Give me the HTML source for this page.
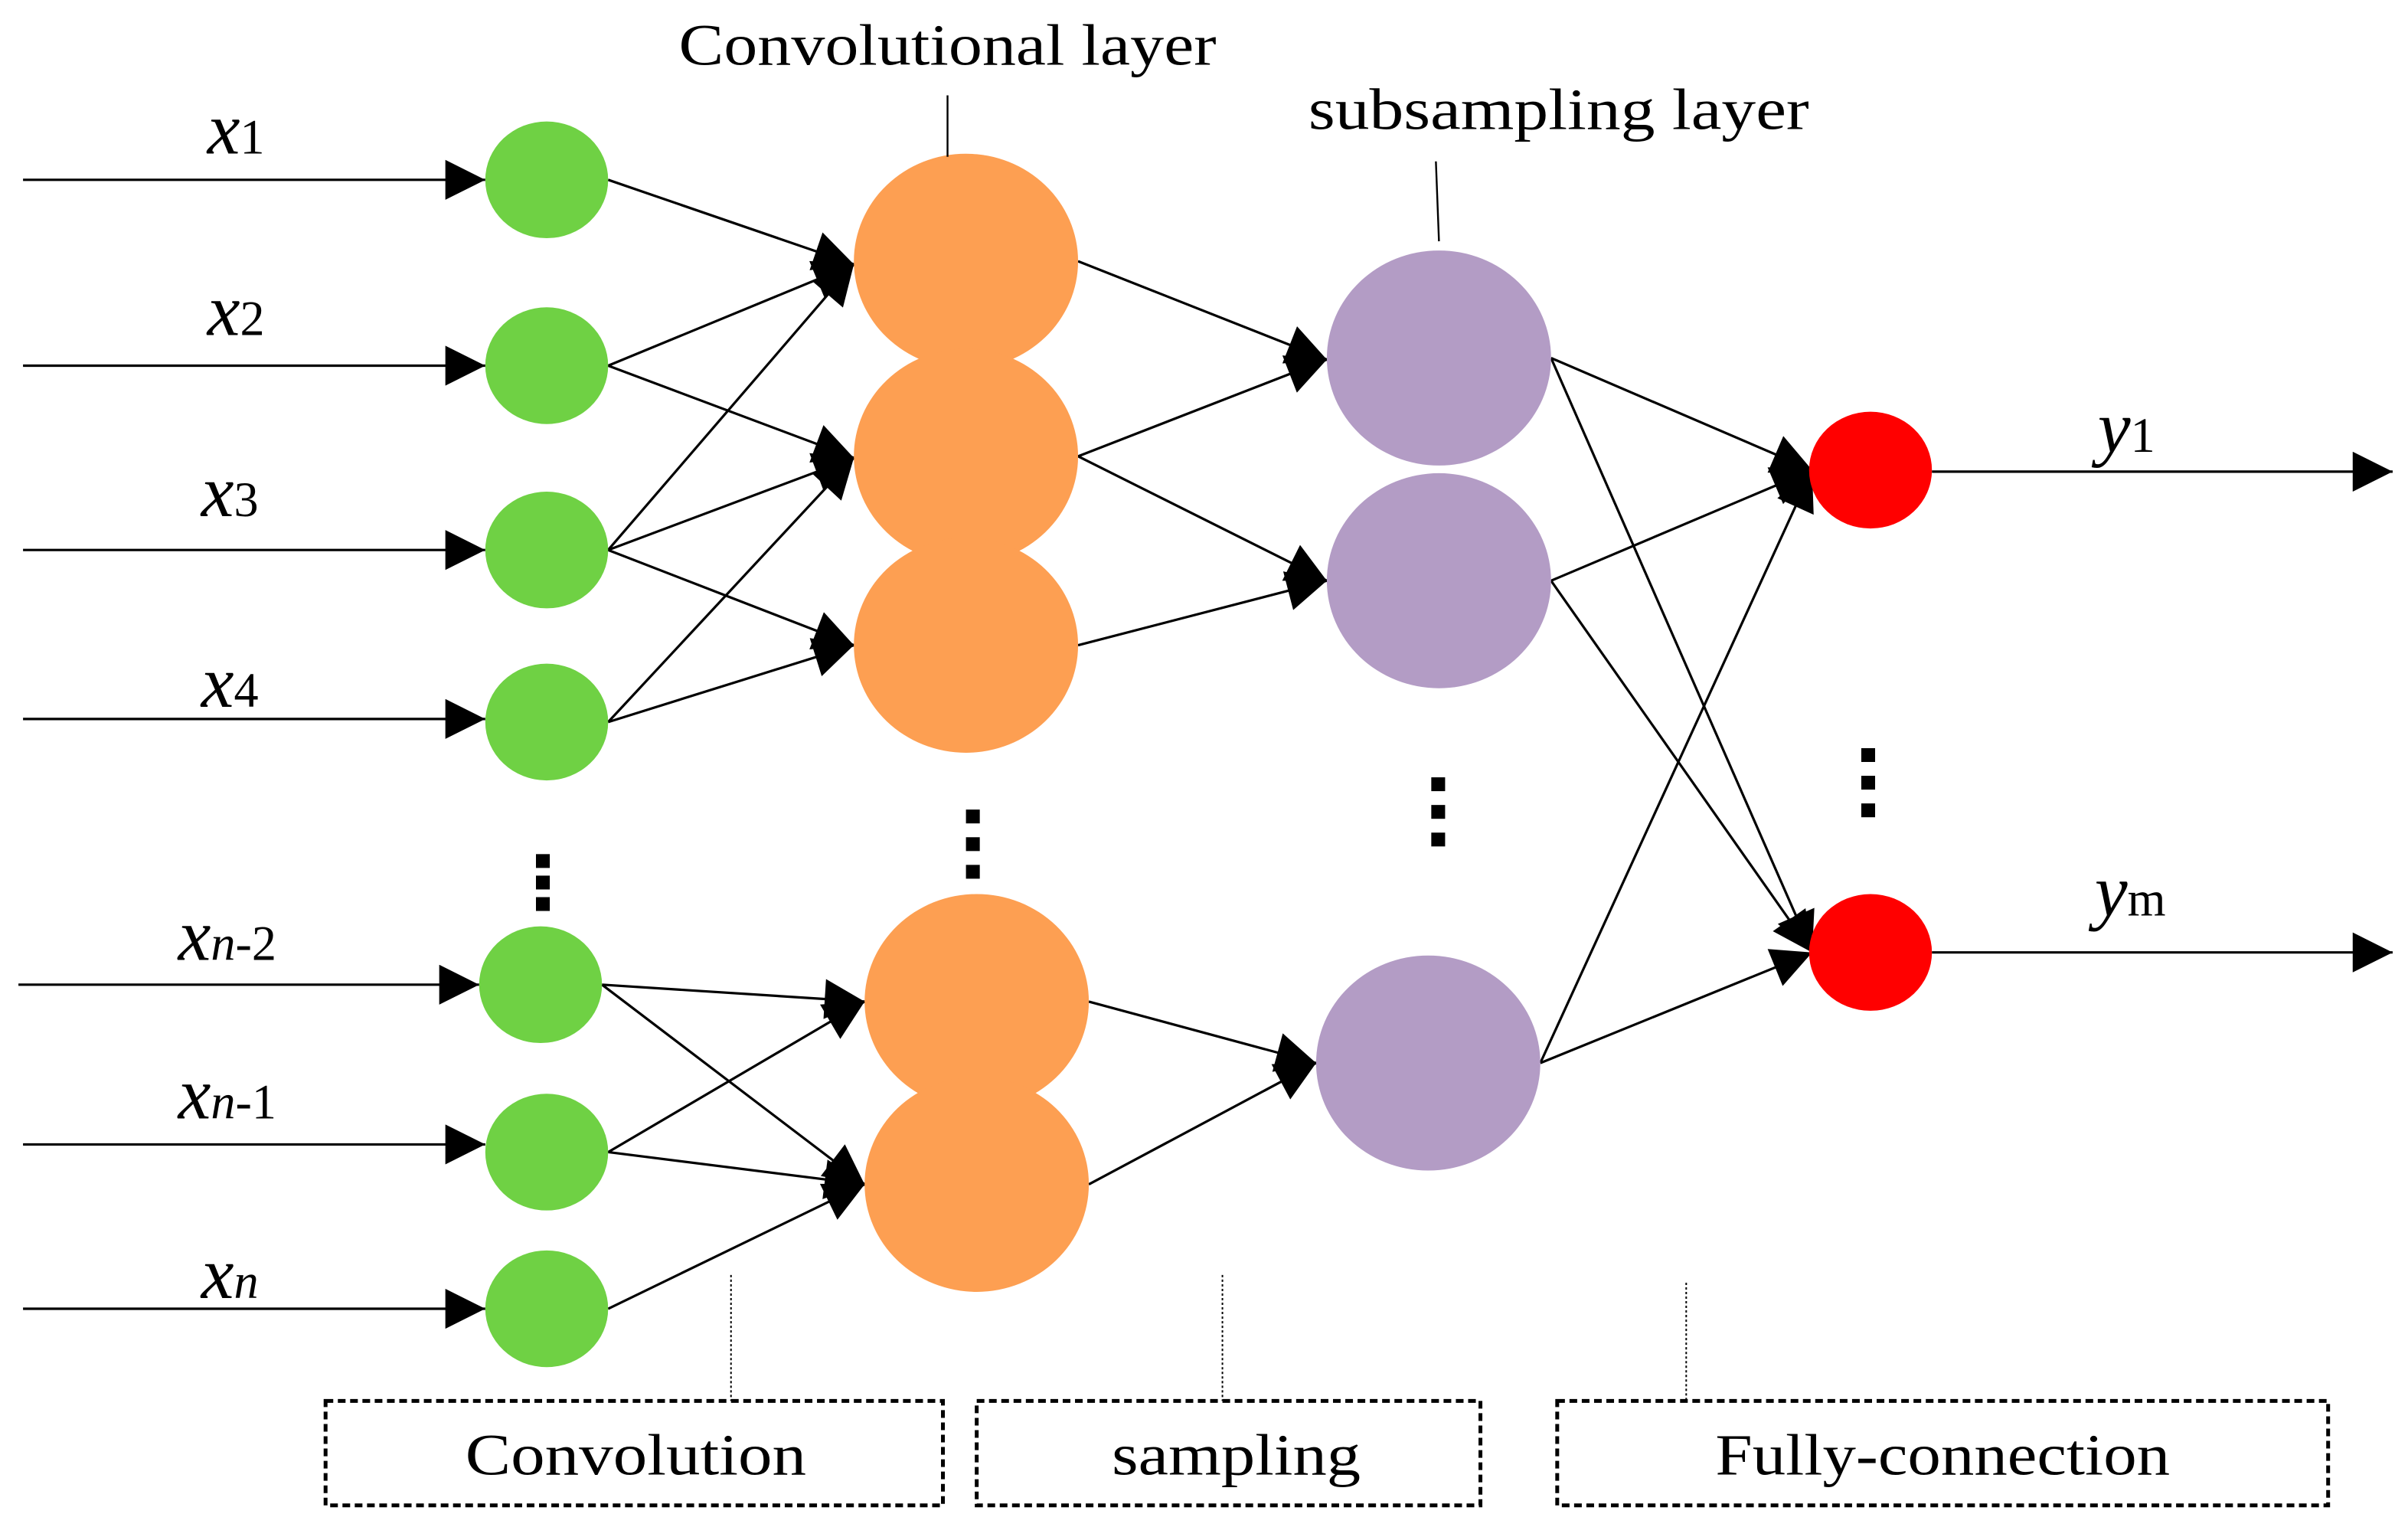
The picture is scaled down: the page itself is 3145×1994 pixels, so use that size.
<!DOCTYPE html>
<html><head><meta charset="utf-8"><style>html,body{margin:0;padding:0;background:#fff}svg{display:block}</style></head>
<body>
<svg width="3145" height="1994" viewBox="0 0 1568 994" xmlns="http://www.w3.org/2000/svg" font-family="'Liberation Serif',serif">
<defs>
<marker id="a" viewBox="0 0 10 10" refX="10" refY="5" markerWidth="28" markerHeight="26" markerUnits="userSpaceOnUse" orient="auto"><path d="M0,0L10,5L0,10z" fill="#000"/></marker>
</defs>
<rect width="1568" height="994" fill="#fff"/>
<g stroke="#000" stroke-width="1.6" fill="none" marker-end="url(#a)">
<line x1="15" y1="117" x2="316" y2="117"/>
<line x1="15" y1="238" x2="316" y2="238"/>
<line x1="15" y1="358" x2="316" y2="358"/>
<line x1="15" y1="468" x2="316" y2="468"/>
<line x1="12" y1="641" x2="312" y2="641"/>
<line x1="15" y1="745" x2="316" y2="745"/>
<line x1="15" y1="852" x2="316" y2="852"/>
<line x1="1258" y1="307" x2="1558" y2="307"/>
<line x1="1258" y1="620" x2="1558" y2="620"/>
<line x1="396" y1="117" x2="556" y2="172"/>
<line x1="396" y1="238" x2="556" y2="172"/>
<line x1="396" y1="238" x2="556" y2="298"/>
<line x1="396" y1="358" x2="556" y2="172"/>
<line x1="396" y1="358" x2="556" y2="298"/>
<line x1="396" y1="358" x2="556" y2="420"/>
<line x1="396" y1="470" x2="556" y2="298"/>
<line x1="396" y1="470" x2="556" y2="420"/>
<line x1="392" y1="641" x2="563" y2="652"/>
<line x1="392" y1="641" x2="563" y2="771"/>
<line x1="396" y1="750" x2="563" y2="652"/>
<line x1="396" y1="750" x2="563" y2="771"/>
<line x1="396" y1="852" x2="563" y2="771"/>
<line x1="702" y1="170" x2="864" y2="234"/>
<line x1="702" y1="297" x2="864" y2="234"/>
<line x1="702" y1="297" x2="864" y2="378"/>
<line x1="702" y1="420" x2="864" y2="378"/>
<line x1="709" y1="652" x2="857" y2="692"/>
<line x1="709" y1="771" x2="857" y2="692"/>
<line x1="1010" y1="233" x2="1180" y2="306"/>
<line x1="1010" y1="233" x2="1180" y2="620"/>
<line x1="1010" y1="378" x2="1180" y2="306"/>
<line x1="1010" y1="378" x2="1180" y2="620"/>
<line x1="1003" y1="692" x2="1180" y2="306"/>
<line x1="1003" y1="692" x2="1180" y2="620"/>
</g>
<g fill="#6fd144">
<ellipse cx="356" cy="117" rx="40" ry="38"/>
<ellipse cx="356" cy="238" rx="40" ry="38"/>
<ellipse cx="356" cy="358" rx="40" ry="38"/>
<ellipse cx="356" cy="470" rx="40" ry="38"/>
<ellipse cx="352" cy="641" rx="40" ry="38"/>
<ellipse cx="356" cy="750" rx="40" ry="38"/>
<ellipse cx="356" cy="852" rx="40" ry="38"/>
</g>
<g fill="#fd9f52">
<ellipse cx="629" cy="170" rx="73" ry="70"/>
<ellipse cx="629" cy="297" rx="73" ry="70"/>
<ellipse cx="629" cy="420" rx="73" ry="70"/>
<ellipse cx="636" cy="652" rx="73" ry="70"/>
<ellipse cx="636" cy="771" rx="73" ry="70"/>
</g>
<g fill="#b39cc5">
<ellipse cx="937" cy="233" rx="73" ry="70"/>
<ellipse cx="937" cy="378" rx="73" ry="70"/>
<ellipse cx="930" cy="692" rx="73" ry="70"/>
</g>
<g fill="#ff0000">
<ellipse cx="1218" cy="306" rx="40" ry="38"/>
<ellipse cx="1218" cy="620" rx="40" ry="38"/>
</g>
<g fill="#000">
<rect x="349" y="556" width="9" height="9"/><rect x="349" y="570" width="9" height="9"/><rect x="349" y="584" width="9" height="9"/>
<rect x="629" y="527" width="9" height="9"/><rect x="629" y="545" width="9" height="9"/><rect x="629" y="563" width="9" height="9"/>
<rect x="932" y="506" width="9" height="9"/><rect x="932" y="524" width="9" height="9"/><rect x="932" y="542" width="9" height="9"/>
<rect x="1212" y="487" width="9" height="9"/><rect x="1212" y="505" width="9" height="9"/><rect x="1212" y="523" width="9" height="9"/>
</g>
<g stroke="#000" stroke-width="1.2">
<line x1="617" y1="62" x2="617" y2="102"/>
<line x1="935" y1="105" x2="937" y2="157"/>
</g>
<g stroke="#000" stroke-width="1" stroke-dasharray="1.5,1.5">
<line x1="476" y1="830" x2="476" y2="912"/>
<line x1="796" y1="830" x2="796" y2="912"/>
<line x1="1098" y1="835" x2="1098" y2="912"/>
</g>
<g fill="none" stroke="#000" stroke-width="2.5" stroke-dasharray="5,3">
<rect x="212" y="912" width="402" height="68"/>
<rect x="636" y="912" width="328" height="68"/>
<rect x="1014" y="912" width="502" height="68"/>
</g>
<g font-size="38" fill="#000" lengthAdjust="spacingAndGlyphs">
<text x="442" y="42" textLength="350" lengthAdjust="spacingAndGlyphs">Convolutional layer</text>
<text x="852" y="84" textLength="326" lengthAdjust="spacingAndGlyphs">subsampling layer</text>
<text x="303" y="960" textLength="222" lengthAdjust="spacingAndGlyphs">Convolution</text>
<text x="724" y="960" textLength="162" lengthAdjust="spacingAndGlyphs">sampling</text>
<text x="1117" y="960" textLength="296" lengthAdjust="spacingAndGlyphs">Fully-connection</text>
</g>
<g fill="#000" font-size="32">
<text x="135" y="100"><tspan font-style="italic" font-size="48">x</tspan>1</text>
<text x="135" y="218"><tspan font-style="italic" font-size="48">x</tspan>2</text>
<text x="131" y="336"><tspan font-style="italic" font-size="48">x</tspan>3</text>
<text x="131" y="460"><tspan font-style="italic" font-size="48">x</tspan>4</text>
<text x="116" y="625"><tspan font-style="italic" font-size="48">x</tspan><tspan font-style="italic">n</tspan>-2</text>
<text x="116" y="728"><tspan font-style="italic" font-size="48">x</tspan><tspan font-style="italic">n</tspan>-1</text>
<text x="131" y="845"><tspan font-style="italic" font-size="48">x</tspan><tspan font-style="italic">n</tspan></text>
<text x="1366" y="294"><tspan font-style="italic" font-size="48">y</tspan>1</text>
<text x="1364" y="596"><tspan font-style="italic" font-size="48">y</tspan>m</text>
</g>
</svg>
</body></html>
